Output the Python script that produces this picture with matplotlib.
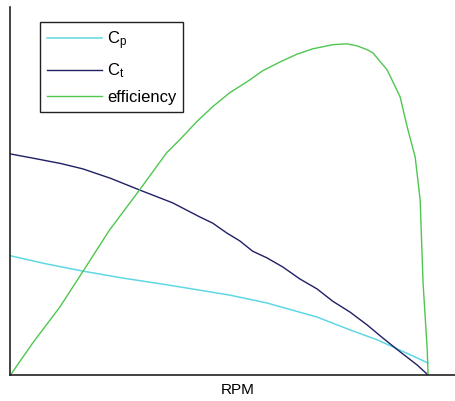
import matplotlib
matplotlib.use("Agg")
import matplotlib.pyplot as plt

plt.rcParams["font.family"] = ["Liberation Sans", "DejaVu Sans"]
plt.rcParams["mathtext.fontset"] = "custom"
plt.rcParams["mathtext.rm"] = "Liberation Sans"
plt.rcParams["mathtext.it"] = "Liberation Sans"

# Power coefficient vs RPM
rpm_cp = [0, 83, 173, 270, 374, 453, 525, 614, 734, 813, 878, 933, 1000]
cp = [0.288, 0.269, 0.251, 0.234, 0.218, 0.205, 0.193, 0.174, 0.140, 0.109,
      0.085, 0.060, 0.029]

# Thrust coefficient vs RPM
rpm_ct = [0, 53, 120, 173, 240, 309, 388, 453, 484, 518, 549, 580, 614, 652,
          693, 734, 772, 813, 854, 892, 933, 974, 1000]
ct = [0.534, 0.524, 0.511, 0.498, 0.475, 0.447, 0.416, 0.382, 0.367, 0.343,
      0.324, 0.299, 0.283, 0.261, 0.232, 0.208, 0.178, 0.152, 0.121, 0.089,
      0.056, 0.024, 0.0]

# Propeller efficiency vs RPM
rpm_eff = [0, 53, 118, 165, 237, 309, 374, 405, 446, 484, 525, 566, 604, 645,
           686, 724, 772, 806, 830, 854, 868, 902, 933, 950, 969, 981, 988,
           998, 1000]
eff = [0.0, 0.077, 0.164, 0.237, 0.350, 0.447, 0.537, 0.568, 0.612, 0.648,
       0.682, 0.708, 0.735, 0.756, 0.775, 0.788, 0.798, 0.800, 0.795, 0.786,
       0.778, 0.737, 0.672, 0.599, 0.527, 0.423, 0.222, 0.060, 0.0]

W, H = 456, 401
fig = plt.figure(figsize=(W / 100, H / 100), dpi=100)
ax = fig.add_axes([10.5 / W, 26 / H, (464 - 10.5) / W, (375 - 7) / H])

ax.plot(rpm_cp, cp, color="#5fd8e4", lw=1.1, label=r"$\mathrm{C_p}$")
ax.plot(rpm_ct, ct, color="#1f1f66", lw=1.0, label=r"$\mathrm{C_t}$")
ax.plot(rpm_eff, eff, color="#4fc64f", lw=1.0, label="efficiency")

ax.set_xlim(0, 1086)
ax.set_ylim(0, 0.889)
ax.set_xticks([])
ax.set_yticks([])
for side in ("top", "right"):
    ax.spines[side].set_visible(False)
for side in ("left", "bottom"):
    ax.spines[side].set_color("#222222")
    ax.spines[side].set_linewidth(1.2)

ax.set_xlabel("RPM", fontsize=11, labelpad=6)

leg = ax.legend(loc="upper left", bbox_to_anchor=(40 / W, 1 - 22 / H),
                bbox_transform=fig.transFigure, borderaxespad=0,
                fontsize=12, handlelength=3.3, handletextpad=0.3,
                labelspacing=0.6, borderpad=0.42, fancybox=False,
                framealpha=1, edgecolor="#222222")
leg.get_frame().set_linewidth(1.0)

fig.savefig("out.png", dpi=100, facecolor="white")
